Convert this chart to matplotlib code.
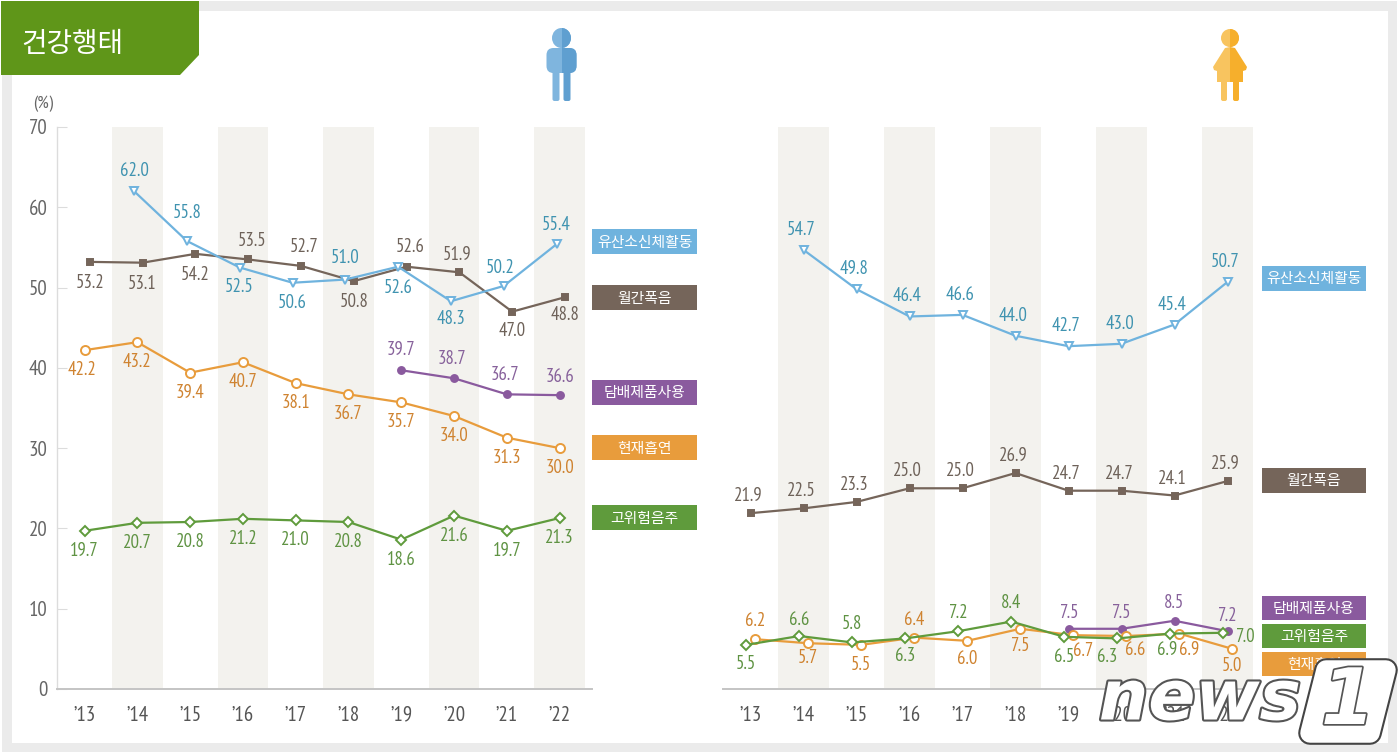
import matplotlib
matplotlib.use("Agg")
import matplotlib.pyplot as plt
import matplotlib.patheffects as pe
from matplotlib.patches import Rectangle, Polygon, Ellipse, FancyBboxPatch

plt.rcParams['font.family'] = ['PT Sans Narrow', 'Roboto', 'Noto Sans CJK KR', 'DejaVu Sans']
KR = ['Noto Sans CJK KR', 'DejaVu Sans']

years = ["’13", "’14", "’15", "’16", "’17", "’18", "’19", "’20", "’21", "’22"]
yticks = [0, 10, 20, 30, 40, 50, 60, 70]
names = ["유산소신체활동", "월간폭음", "담배제품사용", "현재흡연", "고위험음주"]

# men (start index = first year with data)
m_blue = [62.0, 55.8, 52.5, 50.6, 51.0, 52.6, 48.3, 50.2, 55.4]
m_brown = [53.2, 53.1, 54.2, 53.5, 52.7, 50.8, 52.6, 51.9, 47.0, 48.8]
m_purple = [39.7, 38.7, 36.7, 36.6]
m_orange = [42.2, 43.2, 39.4, 40.7, 38.1, 36.7, 35.7, 34.0, 31.3, 30.0]
m_green = [19.7, 20.7, 20.8, 21.2, 21.0, 20.8, 18.6, 21.6, 19.7, 21.3]
# women
w_blue = [54.7, 49.8, 46.4, 46.6, 44.0, 42.7, 43.0, 45.4, 50.7]
w_brown = [21.9, 22.5, 23.3, 25.0, 25.0, 26.9, 24.7, 24.7, 24.1, 25.9]
w_purple = [7.5, 7.5, 8.5, 7.2]
w_orange = [6.2, 5.7, 5.5, 6.4, 6.0, 7.5, 6.7, 6.6, 6.9, 5.0]
w_green = [5.5, 6.6, 5.8, 6.3, 7.2, 8.4, 6.5, 6.3, 6.9, 7.0]

C = dict(blue='#6fb3de', brown='#75655a', purple='#8a5a9e', orange='#e89c3c', green='#5f9b3c')
TC = dict(blue='#3f93b0', brown='#6e6259', purple='#87619b', orange='#cf8330', green='#5f9343')
MK = dict(blue=('v', 'white', 5.5), brown=('s', C['brown'], 5), purple=('o', C['purple'], 5),
          orange=('o', 'white', 6.5), green=('D', 'white', 5))

W, H = 1400, 755
fig = plt.figure(figsize=(14, 7.55), dpi=100, facecolor='white')


def px_axes(x0, x1, ytop, ybot, **kw):
    return fig.add_axes([x0 / W, 1 - ybot / H, (x1 - x0) / W, (ybot - ytop) / H], **kw)


bg = px_axes(0, W, 0, H, zorder=0)
bg.set_xlim(0, W); bg.set_ylim(H, 0); bg.axis('off')
bg.add_patch(Rectangle((2, 1), 1395, 751, fc='#ebebeb', ec='none'))
bg.add_patch(Rectangle((12, 11), 1376, 732, fc='white', ec='none'))
bg.add_patch(Polygon([(1, 1), (199, 1), (199, 55), (180, 75), (1, 75)], fc='#5f9619', ec='none'))
bg.text(21, 44, "건강행태", family=KR, fontsize=20, color='white', va='center', ha='left')
bg.text(43, 104, "(%)", fontsize=13, color='#666666', ha='center', va='center')


def man(a, cx):
    a.add_patch(Ellipse((cx, 38), 19, 20, fc='#7fb5de', ec='none'))
    a.add_patch(FancyBboxPatch((cx - 13, 50), 26, 21, boxstyle='round,pad=2,rounding_size=7', fc='#7fb5de', ec='none'))
    a.add_patch(FancyBboxPatch((cx - 8, 70), 5, 30, boxstyle='round,pad=1,rounding_size=2', fc='#7fb5de', ec='none'))
    a.add_patch(FancyBboxPatch((cx + 3, 70), 5, 30, boxstyle='round,pad=1,rounding_size=2', fc='#5f9fd0', ec='none'))
    clip = Rectangle((cx, 20), 20, 60, transform=a.transData)
    for p in [Ellipse((cx, 38), 19, 20, fc='#5f9fd0', ec='none'),
              FancyBboxPatch((cx - 13, 50), 26, 21, boxstyle='round,pad=2,rounding_size=7', fc='#5f9fd0', ec='none')]:
        a.add_patch(p); p.set_clip_path(clip)


def woman(a, cx):
    L, R = '#f8c45f', '#f6af2c'
    a.add_patch(Ellipse((cx, 38), 18, 18, fc=L, ec='none'))
    e = Ellipse((cx, 38), 18, 18, fc=R, ec='none'); a.add_patch(e)
    e.set_clip_path(Rectangle((cx, 20), 20, 40, transform=a.transData))
    a.add_patch(Polygon([(cx, 47), (cx - 5, 48), (cx - 17, 67), (cx - 16, 70), (cx - 13, 71), (cx - 13, 82), (cx, 82)], fc=L, ec='none'))
    a.add_patch(Polygon([(cx, 47), (cx + 5, 48), (cx + 17, 67), (cx + 16, 70), (cx + 13, 71), (cx + 13, 82), (cx, 82)], fc=R, ec='none'))
    a.add_patch(FancyBboxPatch((cx - 8, 78), 4, 22, boxstyle='round,pad=1,rounding_size=2', fc=L, ec='none'))
    a.add_patch(FancyBboxPatch((cx + 4, 78), 4, 22, boxstyle='round,pad=1,rounding_size=2', fc=R, ec='none'))


man(bg, 561.5)
woman(bg, 1230)

# legend-like tags
for name, key, x0, x1, y0, y1 in [
    (names[0], 'blue', 592, 697, 229, 254), (names[1], 'brown', 592, 697, 285, 310),
    (names[2], 'purple', 592, 697, 380, 405), (names[3], 'orange', 592, 697, 435, 460),
    (names[4], 'green', 592, 697, 505, 530),
    (names[0], 'blue', 1262, 1366, 266, 291), (names[1], 'brown', 1262, 1366, 468, 493),
    (names[2], 'purple', 1262, 1366, 596, 620), (names[4], 'green', 1262, 1366, 624, 648),
    (names[3], 'orange', 1262, 1366, 652, 676)]:
    bg.add_patch(Rectangle((x0, y0), x1 - x0, y1 - y0, fc=C[key], ec='none'))
    bg.text((x0 + x1) / 2, (y0 + y1) / 2 + 1, name, family=KR, fontsize=10.7, color='white', ha='center', va='center')


def panel(x0, x1, step, first, left_axis):
    ax = px_axes(x0, x1, 127, 689, zorder=2)
    ax.patch.set_alpha(0)
    ax.set_xlim((x0 - first) / step, (x1 - first) / step)
    ax.set_ylim(0, 70)
    for i in range(1, 10, 2):
        ax.axvspan(i - 0.48, i + 0.48, fc='#f3f2ee', ec='none', zorder=0)
    for s in ['top', 'right']:
        ax.spines[s].set_visible(False)
    ax.spines['bottom'].set_color('#c4c4c4')
    ax.spines['bottom'].set_linewidth(1.4)
    ax.spines['left'].set_color('#dcdcdc')
    ax.spines['left'].set_linewidth(1.0)
    ax.set_xticks(range(10))
    ax.set_xticklabels(years)
    ax.tick_params(axis='x', length=0, pad=12, labelsize=15, labelcolor='#555555')
    if left_axis:
        ax.set_yticks(yticks)
        ax.tick_params(axis='y', direction='in', length=7, color='#dcdcdc', pad=7, labelsize=15, labelcolor='#666666')
    else:
        ax.spines['left'].set_visible(False)
        ax.set_yticks([])
    return ax


def series(ax, values, key, start, shift, offs, z):
    xs = [start + i + shift for i in range(len(values))]
    mk, fc, ms = MK[key]
    ax.plot(xs, values, color=C[key], lw=1.6, marker=mk, mfc=fc, mec=C[key], mew=1.4, ms=ms, zorder=z, clip_on=False)
    for x, v, (dx, dy) in zip(xs, values, offs):
        ax.annotate(f"{v:.1f}", (x, v), xytext=(dx, dy), textcoords='offset pixels',
                    ha='center', va='center', fontsize=13.5, color=TC[key], zorder=z + 5)


left = panel(57, 592, 52.8, 84.5, True)
series(left, m_green, 'green', 0, 0, [(0, -20)] * 10, 3)
series(left, m_orange, 'orange', 0, 0, [(-2, -20)] + [(0, -20)] * 9, 3)
series(left, m_purple, 'purple', 6, 0, [(0, 20), (-2, 19), (-2, 19), (0, 18)], 3)
series(left, m_brown, 'brown', 0, 0.1,
       [(0, -21), (0, -21), (0, -21), (4, 18), (3, 19), (0, -21), (4, 20), (-2, 17), (0, -19), (0, -18)], 4)
series(left, m_blue, 'blue', 1, -0.06,
       [(0, 20), (0, 28), (0, -20), (0, -20), (0, 22), (0, -21), (0, -18), (-3, 18), (0, 19)], 5)

right = panel(723, 1255, 53, 750.5, False)
series(right, w_blue, 'blue', 1, 0, [(-2, 20)] * 9, 3)
series(right, w_brown, 'brown', 0, 0, [(-2, 17)] * 10, 3)
series(right, w_purple, 'purple', 6, 0, [(1, 16), (0, 16), (0, 18), (0, 15)], 3)
series(right, w_orange, 'orange', 0, 0.09,
       [(0, 18), (0, -15), (0, -20), (0, 18), (0, -18), (0, -17), (10, -16), (9, -14), (10, -16), (0, -17)], 4)
series(right, w_green, 'green', 0, -0.08,
       [(0, -19), (0, 16), (0, 18), (0, -18), (0, 18), (0, 19), (0, -20), (-10, -19), (-3, -16), (22, -4)], 5)

# news1 watermark
top = px_axes(0, W, 0, H, zorder=10)
top.patch.set_alpha(0)
top.set_xlim(0, W); top.set_ylim(H, 0); top.axis('off')
top.text(1200, 700, "news", family='DejaVu Sans', fontsize=50, style='italic', weight='bold', color='white',
         ha='center', va='center', zorder=2,
         path_effects=[pe.withStroke(linewidth=3, foreground='#555555')])
ring = [(1326, 670), (1386, 670), (1370, 733), (1310, 733)]
top.add_patch(Polygon(ring, closed=True, fc='none', ec='#444444', lw=17, joinstyle='round', zorder=3))
top.add_patch(Polygon(ring, closed=True, fc='white', ec='white', lw=14, joinstyle='round', zorder=4))
top.text(1348, 702, "1", family='DejaVu Sans', fontsize=56, style='italic', weight='bold', color='white',
         ha='center', va='center', zorder=5,
         path_effects=[pe.withStroke(linewidth=2.5, foreground='#555555')])

fig.savefig('out.png', dpi=100)
